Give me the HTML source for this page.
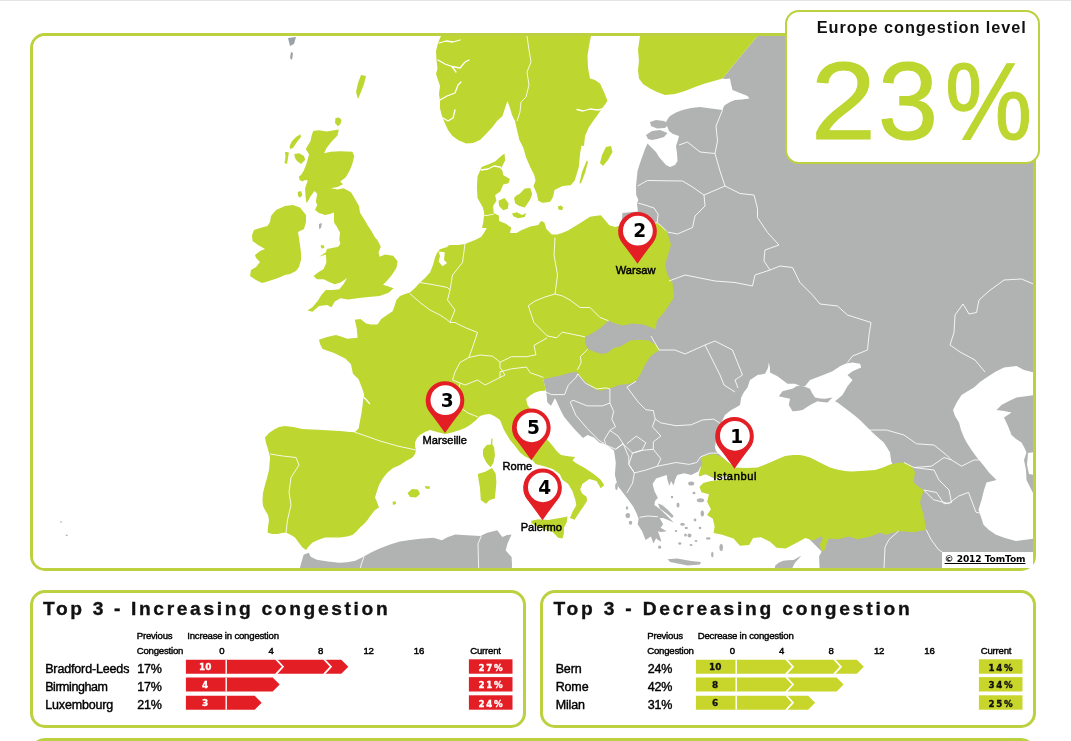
<!DOCTYPE html>
<html><head><meta charset="utf-8"><title>Europe congestion level</title>
<style>
html,body{margin:0;padding:0;background:#fff}
body{width:1071px;height:741px;position:relative;overflow:hidden;font-family:"Liberation Sans",sans-serif;color:#000}
.topline{position:absolute;left:0;top:0;width:1071px;height:1px;background:#e4e4e4}
.mapframe{position:absolute;left:30px;top:33px;width:1000px;height:532px;border:3px solid #bcd040;border-radius:15px;background:#fff;overflow:hidden}
.mapframe svg{position:absolute;left:-33px;top:-36px}
.cbox{position:absolute;left:785px;top:10px;width:251px;height:149.5px;border:2.5px solid #bcd040;border-radius:14px;background:#fff}
.ctitle{position:absolute;left:816.8px;top:17.6px;font-size:16.3px;font-weight:bold;letter-spacing:.95px;white-space:nowrap;color:#111}
.cval{position:absolute;left:811.5px;top:45.5px;font-size:110px;line-height:1;color:#bdd630;white-space:nowrap;transform-origin:0 0;-webkit-text-stroke:1.2px #bdd630}
.copy{position:absolute;left:941.8px;top:552px;width:91.7px;height:16px;background:#fff}
.copy span{position:absolute;left:2.8px;top:2px;font-family:"DejaVu Sans",sans-serif;font-weight:bold;font-size:9.1px;text-decoration:underline;white-space:nowrap;letter-spacing:-.1px}
.panel{position:absolute;top:589.5px;width:489.5px;height:132px;border:3px solid #bcd040;border-radius:15px;background:#fff}
.ptitle{position:absolute;top:598.3px;font-size:19.2px;font-weight:bold;letter-spacing:2.65px;white-space:nowrap;color:#111;-webkit-text-stroke:.35px #111}
.sm{position:absolute;font-size:9.6px;white-space:nowrap;letter-spacing:-.2px;-webkit-text-stroke:.4px #000}
.sm.ax{width:30px;text-align:center;-webkit-text-stroke:.45px #000}
.city{position:absolute;font-size:12.5px;white-space:nowrap;letter-spacing:-.15px;-webkit-text-stroke:.4px #000}
.bars{position:absolute;top:655px}
.bframe{position:absolute;left:30px;top:738px;width:1000px;height:40px;border:3px solid #bcd040;border-radius:15px;background:#fff}
</style></head><body>
<div class="topline"></div>
<div class="mapframe"><svg width="1071" height="741" viewBox="0 0 1071 741">
<rect x="30" y="30" width="1010" height="545" fill="#fff"/>
<polygon fill="#b1b2b2" points="757.5,36.0 1034.0,36.0 1034.0,572.0 819.7,572.0 819.1,556.2 821.7,551.6 800.0,530.0 740.0,520.0 712.0,500.0 705.0,480.0 700.9,466.3 698.2,471.6 691.2,475.1 684.2,473.3 677.2,475.1 675.0,480.0 673.7,485.6 671.0,481.0 669.5,486.0 667.5,480.0 666.7,475.1 661.4,476.8 656.1,478.6 652.6,483.9 654.4,490.9 657.9,497.9 655.0,501.0 654.4,504.9 660.0,509.0 666.7,515.4 673.7,522.5 668.0,520.0 663.0,518.0 659.6,518.1 663.2,524.2 660.5,527.7 666.7,531.2 661.0,532.0 657.9,531.2 660.0,537.0 661.4,541.8 658.0,540.0 656.1,538.2 653.5,543.5 650.9,536.5 645.6,540.0 642.1,531.2 637.7,524.2 638.6,518.9 636.8,513.7 633.3,506.7 628.1,499.6 622.8,492.6 617.5,485.6 614.9,475.1 615.8,462.8 614.0,450.5 610.0,447.5 603.5,443.5 600.0,443.0 593.8,437.6 587.5,435.0 583.0,438.0 575.5,430.3 570.0,424.0 564.2,417.1 561.0,411.0 558.5,405.8 556.0,400.0 554.8,398.2 553.0,402.0 551.0,405.8 549.0,404.0 547.2,402.0 546.8,397.0 546.3,392.5 545.3,388.8 543.4,379.3 560.0,345.0 565.0,300.0 575.0,250.0 585.0,232.0 621.0,232.0 622.4,213.1 630.0,212.3 637.9,211.5 637.0,203.4 638.3,200.0 636.2,195.0 636.0,186.0 637.5,171.0 640.0,163.0 642.5,156.0 645.0,149.0 647.5,143.5 652.0,148.0 656.0,152.0 659.0,157.0 662.5,161.0 666.0,165.0 670.0,167.0 675.0,165.0 677.5,161.0 677.0,153.0 676.0,146.0 678.0,140.0 679.0,136.0 673.0,134.0 669.0,131.0 667.0,126.0 666.0,122.0 668.0,118.5 670.0,116.0 676.0,112.5 682.5,110.0 691.0,108.0 700.0,107.0 711.0,108.5 722.5,110.0 723.5,107.0 725.0,105.0 730.0,102.0 735.0,100.0 742.0,99.5 749.5,98.5 747.5,96.0 740.0,93.0 732.5,90.0 731.0,84.0 730.0,78.5 726.0,79.0 722.5,78.5 740.0,57.0"/>
<polygon fill="#fff" points="750.0,380.0 757.5,375.0 765.0,373.8 768.0,368.0 768.8,362.5 769.8,367.0 770.0,372.5 777.5,376.2 787.5,383.8 795.0,383.8 801.2,386.2 805.0,386.2 810.0,380.0 820.0,376.2 832.5,371.2 840.0,366.2 846.0,363.5 852.5,362.5 860.0,363.8 861.2,367.5 852.5,371.2 847.5,375.0 852.5,380.0 847.5,386.2 842.5,395.0 835.0,401.2 837.5,402.5 847.5,410.0 854.0,415.0 860.0,420.0 866.0,426.0 872.5,432.5 878.0,437.5 883.8,442.5 887.0,447.5 890.0,452.5 891.2,461.2 895.0,470.0 880.0,478.0 852.5,480.0 820.0,472.0 800.0,465.0 775.0,470.0 755.0,475.0 735.0,468.2 727.0,462.0 720.0,455.0 716.0,451.0 715.0,447.5 716.0,440.0 718.0,432.0 721.0,423.0 725.0,415.0 731.2,410.0 736.0,407.5 740.0,405.0 741.2,397.5 744.0,392.0 747.5,387.5"/>
<polygon fill="#b1b2b2" points="800.0,385.5 805.0,386.8 810.0,388.8 812.0,393.0 815.0,397.5 820.0,398.5 825.0,398.8 832.5,397.5 830.0,400.0 827.5,402.5 822.0,402.0 817.5,401.2 812.5,403.8 807.0,407.0 802.5,410.0 797.0,411.0 792.5,411.2 788.8,405.0 790.0,398.8 784.0,397.5 778.8,396.2 782.5,391.2 787.0,390.0 792.5,388.8 796.0,386.5"/>
<polygon fill="#fff" points="1004.0,367.5 1016.5,366.0 1024.0,370.0 1034.0,372.5 1034.0,395.0 1016.5,397.5 1009.0,401.0 1001.5,405.0 996.5,410.0 1004.0,411.0 1011.5,412.5 1004.0,417.5 1008.0,426.0 1011.5,435.0 1016.0,439.0 1021.5,442.5 1024.0,447.0 1026.5,452.5 1024.0,460.0 1026.0,470.0 1026.5,480.0 1029.0,485.0 1031.5,490.0 1034.0,495.0 1034.0,538.5 1015.9,541.0 1005.0,538.0 996.0,534.7 989.0,530.0 983.5,524.8 981.0,517.0 978.5,509.8 981.5,500.0 984.0,490.0 986.5,482.5 996.5,480.0 989.0,472.5 984.0,466.0 979.0,460.0 975.0,455.0 971.5,450.0 967.0,443.0 964.0,437.5 961.0,430.0 959.0,422.5 955.0,416.0 953.0,410.0 957.0,402.0 961.5,395.0 968.0,391.0 974.0,387.5 980.0,382.0 986.5,377.5 995.0,372.0"/>
<polygon fill="#fff" points="1028.0,453.0 1034.0,452.0 1034.0,475.0 1029.0,474.0 1027.0,465.0"/>
<polygon fill="#fff" points="697.0,476.5 701.0,476.0 706.0,474.0 713.0,478.0 722.0,476.5 733.0,477.5 728.0,481.0 720.0,481.5 711.0,482.0 703.0,483.5 698.0,483.0"/>
<polygon fill="#bdd630" points="640.0,36.0 757.5,36.0 740.0,57.0 722.5,78.5 714.0,81.0 705.0,83.5 695.0,87.0 685.0,91.0 675.0,94.0 665.0,95.0 657.0,92.0 650.0,88.5 643.0,84.0 639.0,78.5 638.0,70.0 639.0,61.0 638.0,50.0"/>
<polygon fill="#bdd630" points="441.0,36.0 438.0,43.0 436.0,51.0 436.5,60.0 437.5,68.5 436.0,74.0 438.0,80.0 440.0,86.0 439.0,94.0 440.0,101.0 440.0,108.5 442.0,116.0 445.0,123.5 448.0,130.0 452.5,136.0 458.0,140.0 466.0,143.5 473.0,143.0 480.0,140.0 486.0,134.0 492.5,127.0 497.0,121.0 502.5,116.0 505.0,108.0 507.5,101.0 510.0,108.0 512.0,115.0 515.0,121.0 517.0,130.0 519.4,140.0 523.4,148.1 526.1,157.5 530.2,167.0 534.2,175.1 535.6,180.5 533.5,185.9 536.9,194.0 538.3,200.7 542.3,202.8 546.0,202.5 550.4,201.4 553.1,196.7 554.5,189.9 562.6,185.9 570.7,185.2 574.7,180.5 577.0,173.0 578.8,167.0 580.1,153.5 581.5,145.4 584.0,146.0 585.0,136.0 589.0,127.0 595.0,118.5 601.0,110.0 607.5,101.0 604.0,92.0 600.0,83.5 595.0,80.0 590.0,78.5 588.0,68.0 587.5,56.0 589.0,46.0 591.0,36.0"/>
<polygon fill="#bdd630" points="504.5,153.5 505.2,160.2 501.8,167.0 503.2,175.1 509.9,179.1 508.6,183.2 503.2,184.5 500.5,191.3 495.1,195.3 496.4,200.7 493.1,206.1 493.7,212.9 498.5,215.6 499.1,221.0 499.0,228.0 482.0,228.0 483.6,221.0 484.3,213.5 482.9,207.5 477.5,198.0 476.9,187.2 477.5,176.4 481.6,167.0 488.0,164.5 495.1,161.6 500.0,157.0"/>
<polygon fill="#bdd630" points="498.5,200.7 504.5,198.0 508.6,203.4 507.9,208.8 503.2,210.2 499.1,206.1"/>
<polygon fill="#bdd630" points="519.4,194.0 524.8,188.6 530.2,187.9 532.2,194.0 530.2,199.4 527.5,203.4 524.8,207.5 519.4,206.1 515.3,203.4 514.0,198.0 516.7,195.3"/>
<polygon fill="#bdd630" points="512.0,213.5 516.7,212.2 522.1,214.9 526.1,212.9 524.8,216.9 518.0,218.3 513.3,216.3"/>
<polygon fill="#bdd630" points="557.8,206.5 561.0,205.5 563.2,207.5 562.0,210.2 558.5,209.5"/>
<polygon fill="#bdd630" points="606.0,147.0 611.0,146.0 612.5,152.0 608.0,160.0 603.0,166.0 600.0,163.0 602.0,155.0"/>
<polygon fill="#bdd630" points="586.9,160.2 588.0,162.0 585.0,173.0 581.0,183.2 579.4,183.2 582.0,172.0"/>
<polygon fill="#bdd630" points="271.0,216.0 276.0,210.0 285.0,206.0 293.0,205.0 300.0,207.5 306.0,215.0 306.0,222.0 304.0,229.0 298.0,232.0 299.0,238.0 300.0,245.0 301.0,253.0 301.0,260.0 299.0,267.0 296.0,271.0 290.0,274.0 285.0,275.0 278.0,278.0 272.0,280.0 266.0,282.0 262.0,283.0 256.0,280.0 250.0,276.0 251.0,270.0 256.0,267.0 260.0,262.0 256.0,258.0 255.0,255.0 260.0,251.0 265.0,249.0 258.0,245.0 252.5,241.0 252.0,235.0 254.0,230.0 260.0,228.0 267.5,226.0 270.0,222.0"/>
<polygon fill="#bdd630" points="313.2,130.9 318.6,130.2 326.7,131.6 338.8,129.6 337.5,135.6 332.1,141.0 326.7,147.8 324.0,153.2 330.7,151.8 340.2,151.2 352.3,151.8 354.3,155.9 352.3,164.0 349.6,170.7 345.6,177.5 340.2,181.5 342.9,184.2 337.5,186.9 330.7,188.3 337.5,189.6 343.5,188.3 351.0,192.3 355.0,199.1 359.0,206.0 360.0,212.5 364.0,219.0 367.5,225.0 372.0,232.0 375.0,237.5 377.4,240.0 380.8,246.7 378.5,252.3 379.6,256.8 385.2,254.6 393.1,255.7 397.6,261.3 396.4,268.0 392.0,274.7 387.5,280.3 383.0,284.8 388.6,286.5 393.6,288.2 388.6,292.7 379.6,296.0 368.4,297.1 357.2,298.3 348.3,299.4 340.4,298.3 334.8,301.6 331.5,307.2 327.0,305.0 319.1,306.1 312.4,311.7 307.4,310.6 312.4,307.2 318.0,300.5 321.4,294.9 325.9,289.9 332.6,289.9 339.3,289.3 343.8,283.7 347.1,278.1 340.4,282.6 334.8,284.3 329.2,282.0 323.6,279.2 316.9,279.2 313.5,275.9 318.0,272.5 323.6,269.1 326.4,262.4 325.9,254.6 319.1,256.8 325.9,252.3 327.0,249.0 338.2,246.7 340.4,243.4 339.3,240.0 340.0,232.5 337.0,227.0 334.0,222.5 334.0,212.5 330.0,214.0 325.0,215.0 319.0,213.0 315.0,210.0 317.2,205.0 315.9,201.8 317.2,193.7 314.5,191.0 310.5,196.4 308.0,201.0 306.4,203.1 305.5,196.0 305.1,188.3 307.8,180.2 302.4,180.2 300.4,176.1 303.7,170.7 306.4,164.0 309.1,154.5 305.8,149.1 310.5,141.0 311.5,136.0"/>
<polygon fill="#bdd630" points="300.4,134.3 301.0,137.0 297.0,142.0 293.0,148.0 290.0,149.1 289.6,146.0 292.0,141.0 296.0,137.0"/>
<polygon fill="#bdd630" points="294.3,154.0 299.0,153.2 304.0,156.0 305.1,160.0 301.0,164.0 297.0,161.0 295.0,158.0"/>
<polygon fill="#bdd630" points="335.5,118.0 339.0,117.4 341.5,120.0 340.5,124.0 338.0,126.2 335.0,123.0"/>
<polygon fill="#bdd630" points="361.0,75.0 366.0,76.0 364.0,84.0 361.0,92.0 358.0,99.0 356.0,92.0 358.0,83.0"/>
<polygon fill="#9aa3a8" points="288.0,38.0 296.0,37.0 294.0,44.0 290.0,46.0"/>
<polygon fill="#9aa3a8" points="291.0,52.0 293.0,53.0 292.0,60.0 290.0,58.0"/>
<polygon fill="#a9b0b4" points="319.0,224.0 322.0,223.0 321.0,228.0 319.0,229.0"/>
<polygon fill="#bdd630" points="484.3,213.5 483.6,221.0 487.0,227.7 482.9,234.5 481.0,237.0 475.0,240.0 470.0,242.0 465.0,244.0 458.0,245.0 450.0,245.0 445.0,247.0 440.0,249.0 437.0,253.0 435.0,257.5 433.0,265.0 430.0,272.5 425.0,278.0 420.0,282.5 415.0,288.0 410.0,292.5 405.0,294.0 400.0,296.0 396.4,300.0 394.5,306.0 392.6,311.3 387.0,315.0 381.2,318.9 377.5,324.6 371.0,324.5 366.1,323.6 360.5,318.9 354.8,319.8 356.7,328.3 357.6,337.8 347.2,338.7 341.0,336.5 335.9,335.0 327.0,337.0 318.9,339.7 320.5,345.0 322.7,349.1 334.0,352.9 345.3,358.6 351.0,364.2 352.9,373.7 358.6,379.3 362.3,388.8 364.2,394.5 363.3,398.2 362.5,406.0 361.4,413.4 360.0,421.0 358.6,428.5 354.8,432.2 350.0,432.0 340.0,431.0 331.0,430.5 322.5,430.0 312.0,429.5 302.5,429.0 293.0,427.0 285.0,426.0 279.0,427.0 275.0,429.0 269.0,433.0 265.0,437.5 266.0,443.0 267.5,447.5 269.0,453.0 270.0,457.5 269.5,464.0 269.0,470.0 267.0,478.0 265.0,485.0 263.0,493.0 262.5,500.0 263.0,506.0 265.0,510.0 268.0,515.0 269.0,520.0 268.0,527.0 267.5,532.5 272.0,534.0 277.5,534.0 282.0,533.0 286.0,532.5 291.0,535.0 295.0,537.5 299.0,543.0 302.5,547.5 306.0,550.0 309.0,546.0 312.5,542.5 318.0,540.0 325.0,537.5 332.0,537.5 340.0,537.5 347.0,536.5 352.5,535.0 357.0,531.0 360.0,527.5 364.0,524.0 367.5,520.0 371.0,515.0 375.0,510.0 379.0,507.5 377.0,502.0 375.0,497.5 377.0,491.0 379.0,485.0 383.0,478.0 387.5,472.5 393.0,468.0 400.0,465.0 406.0,461.0 412.5,457.5 415.0,454.0 416.0,450.0 415.0,446.0 415.0,442.5 417.0,438.0 420.0,435.0 425.0,432.0 430.0,430.0 437.0,432.0 445.0,434.0 452.0,432.5 460.0,430.0 465.0,428.0 470.0,425.0 475.0,421.0 480.0,416.0 485.0,414.5 490.0,414.0 495.0,416.5 500.0,420.0 502.0,425.0 504.0,430.0 507.0,435.0 510.0,440.0 515.0,446.0 520.0,452.5 525.0,456.5 532.0,459.8 535.6,464.1 544.1,466.2 552.6,469.0 559.7,474.0 562.5,479.7 568.2,483.9 572.4,491.0 575.2,499.5 576.3,505.2 573.0,510.8 570.0,518.0 574.5,519.8 580.5,510.8 583.5,506.6 587.0,500.9 586.6,496.7 582.3,493.8 580.2,489.6 582.3,483.9 589.4,479.0 596.5,481.1 600.7,488.2 604.3,485.3 600.7,479.7 593.7,474.0 585.2,468.3 576.7,463.4 572.4,460.5 575.2,457.0 568.2,456.3 561.1,455.0 556.8,451.3 552.0,445.0 547.5,440.0 545.0,434.0 542.5,427.5 539.0,421.0 535.0,415.0 531.0,410.0 527.5,405.0 526.0,399.0 530.0,395.5 535.0,392.5 540.0,391.0 545.3,390.7 545.3,388.8 543.4,379.3 551.0,377.4 560.4,375.5 569.9,372.7 577.4,371.8 578.4,374.6 585.0,381.2 592.5,387.8 600.1,390.7 609.5,388.8 619.0,385.0 628.4,384.0 636.0,381.2 640.7,373.7 645.4,364.2 651.0,355.7 659.6,350.0 657.7,346.3 649.2,340.6 639.8,339.7 630.3,340.6 620.9,346.3 613.3,348.2 607.6,352.9 600.1,353.8 592.5,351.0 587.8,349.1 585.0,342.5 585.9,336.8 592.5,333.0 600.1,328.3 608.6,320.8 615.2,323.6 622.8,325.5 632.2,323.6 643.5,324.6 655.8,329.3 656.8,320.8 664.0,312.5 674.0,297.5 672.5,282.5 667.5,275.0 665.0,265.0 671.0,245.0 667.5,232.5 666.5,231.1 661.4,226.1 657.2,222.7 650.0,224.0 640.0,224.8 630.0,225.5 622.0,225.5 618.6,226.1 615.2,226.9 609.3,225.3 605.1,220.2 600.9,215.2 595.0,216.0 590.0,216.8 581.5,222.3 568.0,230.4 562.0,233.0 557.2,234.5 551.8,234.5 546.4,229.1 544.3,222.3 541.0,221.0 538.3,225.0 530.2,226.4 520.7,230.4 516.7,233.1 509.9,233.1 511.3,227.7 505.9,223.7 499.1,221.0 498.5,215.6"/>
<polygon fill="#bdd630" points="701.0,459.0 701.0,457.5 708.0,455.0 715.0,454.0 722.5,457.5 728.0,462.0 735.0,467.5 746.0,468.0 757.5,467.5 764.0,465.0 770.0,462.5 778.0,459.0 785.0,456.0 793.0,455.0 800.0,455.0 805.0,456.0 810.0,457.5 815.0,460.0 820.0,462.5 825.0,465.0 830.0,467.5 837.0,469.5 845.0,471.0 852.0,471.5 860.0,471.0 868.0,470.5 875.0,470.0 883.0,467.5 890.0,464.5 897.0,463.0 904.0,462.5 911.5,466.0 915.0,472.0 913.7,482.4 919.0,487.0 923.7,490.0 920.0,502.3 923.7,514.8 926.2,529.8 913.7,532.2 898.7,531.0 886.3,534.7 880.0,532.7 870.7,536.6 857.6,539.2 848.5,536.6 838.0,539.2 828.9,538.6 826.9,543.1 825.0,549.7 821.7,551.6 819.7,544.4 823.0,537.9 821.0,536.6 813.2,540.5 805.4,537.9 796.2,543.1 785.8,548.4 776.6,547.7 770.1,541.8 760.9,537.3 753.1,537.9 749.2,545.1 740.0,545.8 733.5,538.6 722.2,534.8 713.7,532.9 714.6,526.3 712.8,518.8 707.1,515.0 710.9,509.3 707.1,501.8 709.0,494.2 701.4,492.3 699.5,486.7 703.3,482.9 710.9,481.0 720.0,480.0 730.0,478.0 725.0,475.0 715.0,479.0 712.8,477.2 705.0,474.0 700.0,476.5 698.6,475.3 700.0,470.0 702.5,462.5"/>
<polygon fill="#bdd630" points="407.5,493.0 412.0,489.0 418.0,489.5 420.0,494.0 416.0,497.5 410.0,497.0"/>
<polygon fill="#bdd630" points="425.0,486.0 430.0,486.5 429.5,489.0 425.5,488.5"/>
<polygon fill="#bdd630" points="392.5,502.0 395.5,501.0 396.0,504.0 393.0,505.0"/>
<polygon fill="#bdd630" points="491.3,438.4 492.5,438.6 492.3,444.5 494.1,447.3 494.9,455.4 493.4,462.9 490.4,467.3 486.0,462.1 483.0,455.4 483.0,449.5 486.7,445.1 490.8,444.5"/>
<polygon fill="#bdd630" points="491.9,468.1 495.6,473.2 496.4,482.2 495.6,491.1 494.9,498.5 489.7,500.0 486.0,503.7 480.8,500.0 480.0,488.1 478.5,479.2 477.8,474.0 485.2,471.8"/>
<polygon fill="#bdd630" points="531.3,520.7 538.4,519.3 548.3,520.0 559.7,517.9 567.5,516.5 566.7,522.2 563.9,527.8 563.9,533.5 562.5,538.4 558.2,537.7 552.6,532.1 544.1,529.2 534.2,525.0 531.3,522.9"/>
<polygon fill="#b1b2b2" points="299.0,572.0 300.6,565.0 303.6,554.7 308.7,552.7 310.7,556.7 316.8,559.7 328.0,561.5 339.0,562.8 347.0,562.3 355.3,560.7 363.4,556.7 371.0,552.5 379.6,548.6 390.0,544.5 399.8,541.5 410.0,540.0 420.0,538.7 433.4,537.8 441.8,540.3 448.0,537.0 455.3,534.5 467.1,535.3 480.5,536.1 487.2,532.8 497.3,530.3 500.0,534.0 502.4,537.0 507.0,535.0 511.6,534.5 509.5,539.0 507.4,543.7 505.7,550.4 511.6,557.1 512.0,565.0 511.6,572.0"/>
<polygon fill="#b1b2b2" points="667.5,559.3 677.2,558.4 691.2,561.1 700.9,561.9 700.0,564.6 687.7,565.4 678.9,563.7 670.2,561.9"/>
<polygon fill="#b1b2b2" points="775.3,565.4 779.0,562.5 783.1,560.8 788.0,560.3 793.6,560.1 801.4,555.6 798.0,559.5 794.9,562.7 792.3,568.0 792.0,572.0 774.0,572.0"/>
<polygon fill="#b1b2b2" points="650.0,122.0 656.0,120.0 664.0,121.0 669.0,124.0 665.0,128.0 657.0,128.5 651.0,126.0"/>
<polygon fill="#b1b2b2" points="646.0,135.0 652.0,131.0 660.0,130.0 667.5,133.0 664.0,137.0 657.0,139.0 652.0,140.0 648.0,139.0"/>
<polygon fill="#b1b2b2" points="657.9,503.5 662.0,505.0 668.0,510.0 673.7,516.0 672.0,518.0 666.0,513.0 660.0,508.5"/>
<polygon fill="#bdd630" points="285.0,151.8 288.9,152.5 288.0,158.0 287.0,164.0 284.5,163.0 285.5,157.0"/>
<polygon fill="#bdd630" points="299.0,176.0 303.0,174.8 305.0,178.0 303.0,181.5 299.5,180.0"/>
<polygon fill="#bdd630" points="297.7,192.0 301.0,191.0 302.4,195.0 300.0,197.7 298.0,196.0"/>
<polygon fill="#bdd630" points="320.5,245.5 323.5,245.0 324.5,248.0 321.5,248.5"/>
<polygon fill="#fff" points="438.6,251.5 444.8,252.3 444.0,260.0 447.1,263.1 442.5,266.2 438.6,261.6 440.0,256.0"/>
<ellipse cx="66.7" cy="535.2" rx="1.2" ry="0.8" fill="#b1b2b2"/>
<ellipse cx="61.0" cy="522.0" rx="1.0" ry="0.7" fill="#b1b2b2"/>
<ellipse cx="679.8" cy="470.9" rx="2.6" ry="1.8" fill="#b1b2b2"/>
<ellipse cx="691.2" cy="483.5" rx="3.0" ry="2.0" fill="#b1b2b2"/>
<ellipse cx="700.5" cy="500.3" rx="3.6" ry="2.0" fill="#b1b2b2"/>
<ellipse cx="702.3" cy="513.5" rx="1.7" ry="3.0" fill="#b1b2b2"/>
<ellipse cx="678.0" cy="505.0" rx="1.5" ry="2.5" fill="#b1b2b2"/>
<ellipse cx="682.5" cy="524.2" rx="2.2" ry="1.5" fill="#b1b2b2"/>
<ellipse cx="686.3" cy="527.9" rx="1.6" ry="1.2" fill="#b1b2b2"/>
<ellipse cx="689.5" cy="535.6" rx="2.0" ry="2.0" fill="#b1b2b2"/>
<ellipse cx="685.5" cy="535.0" rx="1.4" ry="1.6" fill="#b1b2b2"/>
<ellipse cx="679.8" cy="543.5" rx="1.6" ry="1.2" fill="#b1b2b2"/>
<ellipse cx="691.0" cy="545.0" rx="1.5" ry="1.0" fill="#b1b2b2"/>
<ellipse cx="708.3" cy="538.4" rx="2.4" ry="1.2" fill="#b1b2b2"/>
<ellipse cx="721.2" cy="547.5" rx="1.8" ry="3.6" fill="#b1b2b2"/>
<ellipse cx="712.3" cy="554.5" rx="1.2" ry="2.8" fill="#b1b2b2"/>
<ellipse cx="659.6" cy="547.2" rx="1.6" ry="1.6" fill="#b1b2b2"/>
<ellipse cx="630.5" cy="522.7" rx="1.7" ry="2.0" fill="#b1b2b2"/>
<ellipse cx="627.8" cy="515.6" rx="2.3" ry="2.6" fill="#b1b2b2"/>
<ellipse cx="627.0" cy="508.0" rx="1.2" ry="1.8" fill="#b1b2b2"/>
<ellipse cx="616.5" cy="486.5" rx="1.3" ry="3.6" fill="#b1b2b2"/>
<ellipse cx="694.0" cy="493.0" rx="1.5" ry="1.2" fill="#b1b2b2"/>
<ellipse cx="672.0" cy="497.0" rx="1.2" ry="1.2" fill="#b1b2b2"/>
<ellipse cx="695.0" cy="520.0" rx="1.4" ry="1.4" fill="#b1b2b2"/>
<ellipse cx="700.0" cy="528.0" rx="1.3" ry="1.3" fill="#b1b2b2"/>
<ellipse cx="676.0" cy="531.0" rx="1.3" ry="1.1" fill="#b1b2b2"/>
<ellipse cx="696.0" cy="541.0" rx="1.4" ry="1.0" fill="#b1b2b2"/>
<g fill="none" stroke="#fff" stroke-opacity=".85" stroke-width="1" stroke-linejoin="round">
<polyline points="722.5,110.0 716.0,126.0 717.5,141.0 715.0,153.5"/>
<polyline points="679.0,145.0 687.5,142.0 700.0,152.0 715.0,153.5"/>
<polyline points="715.0,153.5 720.0,171.0 725.0,186.0"/>
<polyline points="637.5,186.0 647.5,180.5 682.5,181.0 692.5,187.0 704.0,195.0 725.0,186.0"/>
<polyline points="704.0,195.0 705.0,206.0 695.0,216.0 692.5,227.5 677.5,234.0 667.5,232.0"/>
<polyline points="725.0,186.0 740.0,193.5 754.0,195.0 757.5,208.5 757.5,217.5 767.5,232.5 779.0,245.0 765.0,250.0 764.0,261.0 770.0,270.0"/>
<polyline points="669.0,281.0 685.0,275.0 715.0,281.0 735.0,282.5 752.5,286.0 755.0,275.0 770.0,270.0"/>
<polyline points="770.0,270.0 780.0,266.0 792.5,267.5 800.0,282.5 812.5,295.0 820.0,304.0 837.5,306.0 847.5,315.0 871.0,322.5 869.0,335.0 867.5,350.0 852.5,356.0 847.5,362.5"/>
<polyline points="622.0,225.5 640.0,224.8 657.2,222.7"/>
<polyline points="657.2,222.7 661.4,226.1 666.5,231.1"/>
<polyline points="638.0,203.0 645.0,205.0 654.0,208.0 658.1,214.3 657.2,222.7"/>
<polyline points="651.0,336.0 659.0,350.0 675.0,350.0 685.0,354.0 705.0,345.0 715.0,341.0 732.5,350.0 737.5,362.5 742.5,375.0 735.0,380.0 738.0,388.0"/>
<polyline points="705.0,345.0 712.5,360.0 720.0,375.0 724.0,385.0 735.0,392.0"/>
<polyline points="1033.0,283.8 1021.5,279.0 1004.0,280.0 989.0,291.0 979.0,300.0 976.5,312.5 969.0,314.0 963.0,304.0 955.0,315.0 954.0,332.5 950.0,345.0 960.0,352.0 975.0,360.0 985.0,372.0"/>
<polyline points="555.0,237.5 554.0,255.0 557.5,275.0 555.0,294.0"/>
<polyline points="555.0,294.0 562.5,296.0 570.0,300.0 580.0,307.5 590.0,307.5 600.0,317.5 608.6,320.8"/>
<polyline points="555.0,294.0 545.0,297.0 535.0,301.0 528.3,305.7 534.0,322.7 547.2,335.9"/>
<polyline points="547.2,335.9 556.7,337.8 562.3,332.1 575.5,334.9 585.0,336.8"/>
<polyline points="500.0,362.3 511.3,356.7 526.4,356.7 535.9,354.8 534.0,345.3 547.2,337.8"/>
<polyline points="500.0,371.8 511.3,368.9 526.4,367.0 530.2,372.7 543.4,377.4"/>
<polyline points="587.8,349.1 580.3,356.7 581.2,362.3 577.4,369.9"/>
<polyline points="354.8,432.2 366.0,436.0 380.0,441.0 397.5,446.0 416.0,450.0"/>
<polyline points="270.0,454.0 282.5,456.0 296.0,457.5 299.0,465.0 291.0,477.5 289.0,492.5 291.0,505.0 287.5,520.0 286.0,532.5"/>
<polyline points="527.0,36.0 529.0,50.0 531.0,62.0 527.0,72.0 529.0,85.0 526.0,97.0 521.0,102.0 520.0,112.0 517.0,121.0"/>
<polyline points="364.0,556.5 361.0,565.0 360.0,572.0"/>
<polyline points="481.3,536.1 478.0,543.7 478.3,555.0 478.8,572.0"/>
<polyline points="639.5,517.3 648.0,516.0 658.0,516.8"/>
<polyline points="546.0,392.0 551.3,394.6 564.6,394.6 568.3,385.1 575.9,377.6 577.8,373.8"/>
<polyline points="577.8,373.8 585.3,383.2 596.7,388.9 606.1,387.9 609.9,388.9"/>
<polyline points="570.2,402.1 573.0,400.2 587.2,405.9 602.3,405.9 609.9,403.0"/>
<polyline points="609.9,388.9 609.9,403.0 613.7,411.5 611.8,419.1 615.5,426.7 609.9,430.4"/>
<polyline points="570.2,402.1 575.9,415.3 587.2,428.5 598.5,439.9 604.2,443.7"/>
<polyline points="609.9,430.4 604.2,439.9 606.0,445.0 615.5,449.3 623.1,443.7 618.0,436.0 609.9,430.4"/>
<polyline points="626.9,387.0 638.2,402.1 645.8,409.7 653.3,410.6 655.2,419.1"/>
<polyline points="626.9,387.0 636.0,381.2"/>
<polyline points="655.2,419.1 660.9,422.9 676.0,425.7 691.1,424.8 702.4,420.0 713.7,419.1 719.4,422.9 722.0,424.5"/>
<polyline points="655.2,419.1 652.4,426.7 660.9,436.1 653.3,441.8 653.3,449.3"/>
<polyline points="632.5,453.1 642.0,450.3 653.3,449.3 660.9,458.8 657.1,466.3 645.8,470.1 634.4,472.9 628.8,464.4 632.5,453.1"/>
<polyline points="615.5,449.3 623.1,443.7 628.8,456.9 628.8,464.4 634.4,472.9 632.5,483.3 626.9,492.8"/>
<polyline points="623.1,443.7 632.5,453.1 642.0,450.3 645.8,442.7 636.3,436.1 626.9,443.7"/>
<polyline points="657.1,466.3 676.0,462.5 689.2,464.4 696.8,462.5 700.5,456.9"/>
<polyline points="700.5,456.9 710.0,453.1 719.4,453.1"/>
<polyline points="869.0,430.0 886.5,430.0 904.0,435.0 916.5,443.8 934.0,445.0 946.5,455.0 951.5,460.0"/>
<polyline points="904.0,462.5 914.0,467.5 931.5,466.2 944.0,457.5 951.5,460.0 961.5,466.2 974.0,460.0 979.0,460.0"/>
<polyline points="914.0,467.5 934.0,470.0 939.0,480.0 949.0,490.0 951.5,502.5 944.0,503.8 936.5,492.5 924.0,490.0"/>
<polyline points="923.7,490.0 933.6,499.8 948.6,503.6 958.6,496.1 968.5,492.4 976.0,512.3 980.0,513.0"/>
<polyline points="926.2,529.8 931.2,539.7 938.6,549.7 942.4,552.2"/>
<polyline points="898.7,531.0 888.8,539.7 885.0,547.2 883.8,572.0"/>
<polyline points="465.0,243.8 462.5,262.5 452.5,275.0 450.0,290.0"/>
<polyline points="420.0,282.5 435.0,285.0 447.5,287.5 450.0,290.0"/>
<polyline points="410.0,293.8 420.0,302.5 430.0,310.0 440.0,315.0 447.5,320.0 450.0,322.5"/>
<polyline points="450.0,290.0 447.5,300.0 455.0,310.0 450.0,322.5 455.0,322.5"/>
<polyline points="455.0,322.5 465.0,327.5 477.5,332.5 472.5,347.5 468.8,357.5"/>
<polyline points="468.8,357.5 460.0,362.5 455.0,372.0 452.5,380.0 460.0,383.0"/>
<polyline points="468.8,357.5 480.0,355.0 492.5,356.2 497.5,360.0 500.0,362.3"/>
<polyline points="500.0,362.3 500.0,367.5 505.0,375.0 500.0,377.5"/>
<polyline points="460.0,383.0 465.0,385.0 477.5,380.0 485.0,385.0 500.0,377.5 500.0,371.8"/>
<polyline points="460.0,383.0 458.0,392.0 463.0,400.0 461.0,408.0 468.0,413.0 478.0,417.0"/>
<polyline points="479.0,215.0 487.0,215.5 494.0,214.0"/>
</g>
<g fill="none" stroke="#fff" stroke-width="1.3" stroke-linejoin="round" stroke-linecap="round">
<polyline points="439.0,43.0 446.0,41.0 453.0,42.0 460.0,40.0"/>
<polyline points="438.0,60.0 445.0,64.0 452.0,66.5 460.0,68.0 465.0,62.0 469.0,60.0"/>
<polyline points="452.0,66.5 456.0,72.0"/>
<polyline points="440.0,100.0 447.0,96.0 455.0,93.0 458.0,85.0 461.0,82.0"/>
<polyline points="443.0,118.0 448.0,121.0 453.0,118.0 455.0,110.0"/>
<polyline points="606.0,108.0 598.0,110.0 590.0,109.0 583.0,111.0 577.0,109.5"/>
<polyline points="363.6,397.2 366.5,400.0 369.5,403.6"/>
<polyline points="481.0,170.0 488.0,169.0 494.0,166.0 500.0,167.0 503.0,170.0"/>
<polyline points="437.0,249.5 441.0,248.0 447.0,246.3"/>
</g>
<path d="M637.50,263.70 Q628.96,251.50 621.97,242.66 A19.30,19.30 0 1 1 653.03,242.66 Q646.04,251.50 637.50,263.70 Z" fill="#e31e25"/><circle cx="637.9" cy="230.7" r="14.9" fill="#fff"/><text x="639.7" y="237.4" text-anchor="middle" font-family="DejaVu Sans, sans-serif" font-weight="bold" font-size="18.6" fill="#000">2</text>
<path d="M445.00,433.10 Q436.46,420.90 429.47,412.06 A19.30,19.30 0 1 1 460.53,412.06 Q453.54,420.90 445.00,433.10 Z" fill="#e31e25"/><circle cx="445.4" cy="400.1" r="14.9" fill="#fff"/><text x="447.2" y="406.8" text-anchor="middle" font-family="DejaVu Sans, sans-serif" font-weight="bold" font-size="18.6" fill="#000">3</text>
<path d="M531.30,460.30 Q522.76,448.10 515.77,439.26 A19.30,19.30 0 1 1 546.83,439.26 Q539.84,448.10 531.30,460.30 Z" fill="#e31e25"/><circle cx="531.7" cy="427.3" r="14.9" fill="#fff"/><text x="533.5" y="434.0" text-anchor="middle" font-family="DejaVu Sans, sans-serif" font-weight="bold" font-size="18.6" fill="#000">5</text>
<path d="M542.50,520.30 Q533.96,508.10 526.97,499.26 A19.30,19.30 0 1 1 558.03,499.26 Q551.04,508.10 542.50,520.30 Z" fill="#e31e25"/><circle cx="542.9" cy="487.3" r="14.9" fill="#fff"/><text x="544.7" y="494.0" text-anchor="middle" font-family="DejaVu Sans, sans-serif" font-weight="bold" font-size="18.6" fill="#000">4</text>
<path d="M734.50,468.80 Q725.96,456.60 718.97,447.76 A19.30,19.30 0 1 1 750.03,447.76 Q743.04,456.60 734.50,468.80 Z" fill="#e31e25"/><circle cx="734.9" cy="435.8" r="14.9" fill="#fff"/><text x="736.7" y="442.5" text-anchor="middle" font-family="DejaVu Sans, sans-serif" font-weight="bold" font-size="18.6" fill="#000">1</text>
<text x="615.8" y="274.3" font-family="Liberation Sans, sans-serif" font-size="11.1" fill="#000" stroke="#000" stroke-width=".45">Warsaw</text>
<text x="422.6" y="443.8" font-family="Liberation Sans, sans-serif" font-size="11.1" fill="#000" stroke="#000" stroke-width=".45">Marseille</text>
<text x="502.5" y="469.5" font-family="Liberation Sans, sans-serif" font-size="11.1" fill="#000" stroke="#000" stroke-width=".45">Rome</text>
<text x="520.7" y="531.4" font-family="Liberation Sans, sans-serif" font-size="11.1" fill="#000" stroke="#000" stroke-width=".45">Palermo</text>
<text x="713.3" y="480.0" font-family="Liberation Sans, sans-serif" font-size="11.1" fill="#000" stroke="#000" stroke-width=".45" letter-spacing=".62">Istanbul</text>
</svg></div>
<div class="copy"><span>© 2012 TomTom</span></div>
<div class="cbox"></div>
<div class="ctitle">Europe congestion level</div>
<div class="cval" style="left:811.1px;transform:scaleX(1.06)">2</div><div class="cval" style="left:878px;transform:scaleX(0.98)">3</div><div class="cval" style="left:945px;transform:scaleX(0.89)">%</div>
<div class="panel" style="left:30px"></div>
<div class="ptitle" style="left:43.0px">Top 3 - Increasing congestion</div>
<div class="sm" style="left:136.7px;top:629.8px">Previous</div>
<div class="sm" style="left:136.7px;top:644.9px">Congestion</div>
<div class="sm" style="left:187.2px;top:629.8px">Increase in congestion</div>
<div class="sm ax" style="left:206.8px;top:645.2px">0</div>
<div class="sm ax" style="left:256.2px;top:645.2px">4</div>
<div class="sm ax" style="left:305.5px;top:645.2px">8</div>
<div class="sm ax" style="left:353.6px;top:645.2px">12</div>
<div class="sm ax" style="left:403.9px;top:645.2px">16</div>
<div class="sm" style="left:470.2px;top:644.6px">Current</div>
<div class="city" style="left:45.2px;top:662.3px">Bradford-Leeds</div>
<div class="city" style="left:137.2px;top:662.3px">17%</div>
<div class="city" style="left:45.2px;top:680.1px;letter-spacing:-.45px">Birmingham</div>
<div class="city" style="left:137.2px;top:680.1px">17%</div>
<div class="city" style="left:45.2px;top:698.3px">Luxembourg</div>
<div class="city" style="left:137.2px;top:698.3px">21%</div>
<svg class="bars" style="left:185px" width="340" height="65" viewBox="0 0 340 65">
<polygon fill="#e31e25" points="0.9,4.7 156.3,4.7 163.3,11.7 156.3,18.7 0.9,18.7"/>
<polyline fill="none" stroke="#fff" stroke-width="1.7" points="91.0,4.2 98.0,11.7 91.0,19.2"/>
<polyline fill="none" stroke="#fff" stroke-width="1.7" points="139.0,4.2 146.0,11.7 139.0,19.2"/>
<line x1="41.2" x2="41.2" y1="4.7" y2="18.7" stroke="#fff" stroke-width="1.4"/>
<text x="20.2" y="15.0" text-anchor="middle" font-family="DejaVu Sans, sans-serif" font-weight="bold" font-size="8.9" stroke="#fff" stroke-width=".3" fill="#fff">10</text>
<rect x="283.9" y="4.3" width="43.6" height="14.4" fill="#e31e25"/>
<text x="306.4" y="15.6" text-anchor="middle" font-family="DejaVu Sans, sans-serif" font-weight="bold" font-size="8.7" letter-spacing="1.7" stroke="#fff" stroke-width=".35" fill="#fff">27%</text>
<polygon fill="#e31e25" points="0.9,22.5 87.7,22.5 94.7,29.5 87.7,36.5 0.9,36.5"/>
<line x1="41.2" x2="41.2" y1="22.5" y2="36.5" stroke="#fff" stroke-width="1.4"/>
<text x="20.2" y="32.8" text-anchor="middle" font-family="DejaVu Sans, sans-serif" font-weight="bold" font-size="8.9" stroke="#fff" stroke-width=".3" fill="#fff">4</text>
<rect x="283.9" y="22.1" width="43.6" height="14.4" fill="#e31e25"/>
<text x="306.4" y="33.4" text-anchor="middle" font-family="DejaVu Sans, sans-serif" font-weight="bold" font-size="8.7" letter-spacing="1.7" stroke="#fff" stroke-width=".35" fill="#fff">21%</text>
<polygon fill="#e31e25" points="0.9,40.7 69.7,40.7 76.7,47.7 69.7,54.7 0.9,54.7"/>
<line x1="41.2" x2="41.2" y1="40.7" y2="54.7" stroke="#fff" stroke-width="1.4"/>
<text x="20.2" y="51.0" text-anchor="middle" font-family="DejaVu Sans, sans-serif" font-weight="bold" font-size="8.9" stroke="#fff" stroke-width=".3" fill="#fff">3</text>
<rect x="283.9" y="40.3" width="43.6" height="14.4" fill="#e31e25"/>
<text x="306.4" y="51.6" text-anchor="middle" font-family="DejaVu Sans, sans-serif" font-weight="bold" font-size="8.7" letter-spacing="1.7" stroke="#fff" stroke-width=".35" fill="#fff">24%</text>
</svg>
<div class="panel" style="left:540px"></div>
<div class="ptitle" style="left:553.5px;letter-spacing:2.8px">Top 3 - Decreasing congestion</div>
<div class="sm" style="left:647.2px;top:629.8px">Previous</div>
<div class="sm" style="left:647.2px;top:644.9px">Congestion</div>
<div class="sm" style="left:697.7px;top:629.8px">Decrease in congestion</div>
<div class="sm ax" style="left:717.3px;top:645.2px">0</div>
<div class="sm ax" style="left:766.7px;top:645.2px">4</div>
<div class="sm ax" style="left:816.0px;top:645.2px">8</div>
<div class="sm ax" style="left:864.1px;top:645.2px">12</div>
<div class="sm ax" style="left:914.4px;top:645.2px">16</div>
<div class="sm" style="left:980.7px;top:644.6px">Current</div>
<div class="city" style="left:555.7px;top:662.3px">Bern</div>
<div class="city" style="left:647.7px;top:662.3px">24%</div>
<div class="city" style="left:555.7px;top:680.1px">Rome</div>
<div class="city" style="left:647.7px;top:680.1px">42%</div>
<div class="city" style="left:555.7px;top:698.3px">Milan</div>
<div class="city" style="left:647.7px;top:698.3px">31%</div>
<svg class="bars" style="left:695px" width="340" height="65" viewBox="0 0 340 65">
<polygon fill="#c8d62b" points="0.9,4.7 161.9,4.7 168.9,11.7 161.9,18.7 0.9,18.7"/>
<polyline fill="none" stroke="#fff" stroke-width="1.7" points="91.0,4.2 98.0,11.7 91.0,19.2"/>
<polyline fill="none" stroke="#fff" stroke-width="1.7" points="139.0,4.2 146.0,11.7 139.0,19.2"/>
<line x1="41.2" x2="41.2" y1="4.7" y2="18.7" stroke="#fff" stroke-width="1.4"/>
<text x="20.2" y="15.0" text-anchor="middle" font-family="DejaVu Sans, sans-serif" font-weight="bold" font-size="8.9" stroke="#111" stroke-width=".3" fill="#111">10</text>
<rect x="283.9" y="4.3" width="43.6" height="14.4" fill="#c8d62b"/>
<text x="306.4" y="15.6" text-anchor="middle" font-family="DejaVu Sans, sans-serif" font-weight="bold" font-size="8.7" letter-spacing="1.7" stroke="#111" stroke-width=".35" fill="#111">14%</text>
<polygon fill="#c8d62b" points="0.9,22.5 141.6,22.5 148.6,29.5 141.6,36.5 0.9,36.5"/>
<polyline fill="none" stroke="#fff" stroke-width="1.7" points="91.0,22.0 98.0,29.5 91.0,37.0"/>
<line x1="41.2" x2="41.2" y1="22.5" y2="36.5" stroke="#fff" stroke-width="1.4"/>
<text x="20.2" y="32.8" text-anchor="middle" font-family="DejaVu Sans, sans-serif" font-weight="bold" font-size="8.9" stroke="#111" stroke-width=".3" fill="#111">8</text>
<rect x="283.9" y="22.1" width="43.6" height="14.4" fill="#c8d62b"/>
<text x="306.4" y="33.4" text-anchor="middle" font-family="DejaVu Sans, sans-serif" font-weight="bold" font-size="8.7" letter-spacing="1.7" stroke="#111" stroke-width=".35" fill="#111">34%</text>
<polygon fill="#c8d62b" points="0.9,40.7 113.2,40.7 120.2,47.7 113.2,54.7 0.9,54.7"/>
<polyline fill="none" stroke="#fff" stroke-width="1.7" points="91.0,40.2 98.0,47.7 91.0,55.2"/>
<line x1="41.2" x2="41.2" y1="40.7" y2="54.7" stroke="#fff" stroke-width="1.4"/>
<text x="20.2" y="51.0" text-anchor="middle" font-family="DejaVu Sans, sans-serif" font-weight="bold" font-size="8.9" stroke="#111" stroke-width=".3" fill="#111">6</text>
<rect x="283.9" y="40.3" width="43.6" height="14.4" fill="#c8d62b"/>
<text x="306.4" y="51.6" text-anchor="middle" font-family="DejaVu Sans, sans-serif" font-weight="bold" font-size="8.7" letter-spacing="1.7" stroke="#111" stroke-width=".35" fill="#111">25%</text>
</svg>
<div class="bframe"></div>
</body></html>
